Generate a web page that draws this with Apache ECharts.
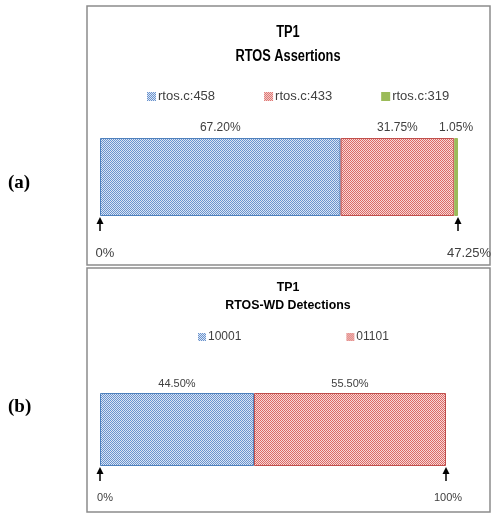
<!DOCTYPE html>
<html>
<head>
<meta charset="utf-8">
<style>
  html, body { margin: 0; padding: 0; background: #fff; }
  #chart { width: 491px; height: 513px; }
</style>
<script src="https://cdn.jsdelivr.net/npm/echarts@6/dist/echarts.min.js"></script>
</head>
<body>
<div id="chart"></div>
<script>
// panel (a)
const titleA = ['TP1', 'RTOS Assertions'];
const namesA = ['rtos.c:458', 'rtos.c:433', 'rtos.c:319'];
const valuesA = [67.20, 31.75, 1.05];
const endValuesA = [0, 100];
const endLabelsA = ['0%', '47.25%'];

// panel (b)
const titleB = ['TP1', 'RTOS-WD Detections'];
const namesB = ['10001', '01101'];
const valuesB = [44.50, 55.50];
const endValuesB = [0, 100];
const endLabelsB = ['0%', '100%'];

const FONT = '"Liberation Sans", sans-serif';

// small checker textures like the excel pattern fills
function makePattern(light, dark) {
  const c = document.createElement('canvas');
  c.width = 4; c.height = 4;
  const ctx = c.getContext('2d');
  ctx.fillStyle = light;
  ctx.fillRect(0, 0, 4, 4);
  ctx.fillStyle = dark;
  for (let y = 0; y < 4; y++) {
    for (let x = 0; x < 4; x++) {
      if ((x + y) % 2 === 0) ctx.fillRect(x, y, 1, 1);
    }
  }
  return { image: c, repeat: 'repeat' };
}

const fills = [
  makePattern('#dae5f5', '#6a93cd'),
  makePattern('#f8d8d7', '#db6a66'),
  '#9bbb59'
];
const edges = ['#4f81bd', '#c0504d', '#9bbb59'];

function barSeries(names, values, idx, fontSize) {
  return names.map((n, i) => ({
    name: n,
    type: 'bar',
    stack: 'p' + idx,
    xAxisIndex: idx,
    yAxisIndex: idx,
    barWidth: '100%',
    data: [values[i]],
    itemStyle: { color: fills[i], borderColor: edges[i], borderWidth: 1 },
    label: {
      show: true,
      position: 'top',
      distance: 4,
      color: '#404040',
      fontFamily: FONT,
      fontSize: fontSize,
      formatter: (p) => p.value.toFixed(2) + '%'
    },
    emphasis: { disabled: true }
  }));
}

function endSeries(vals, labels, idx, fontSize, textGap, lastShift) {
  return {
    type: 'custom',
    xAxisIndex: idx,
    yAxisIndex: idx,
    clip: false,
    z: 5,
    data: vals.map((v) => [v, 0]),
    renderItem: function (params, api) {
      const p = api.coord([api.value(0), 0]);
      const band = api.size([0, 1])[1];
      const x = p[0];
      const b = p[1] + band / 2;
      const last = params.dataIndex === vals.length - 1;
      return {
        type: 'group',
        children: [
          { type: 'polygon', shape: { points: [[x, b + 1], [x - 3.5, b + 8], [x + 3.5, b + 8]] },
            style: { fill: '#000' } },
          { type: 'line', shape: { x1: x, y1: b + 7, x2: x, y2: b + 15 },
            style: { stroke: '#000', lineWidth: 1.5 } },
          { type: 'text', style: {
              x: last ? x + lastShift : x + 5, y: b + textGap,
              text: labels[params.dataIndex], align: 'center', verticalAlign: 'middle',
              fill: '#404040', font: fontSize + 'px ' + FONT } }
        ]
      };
    }
  };
}

function titleText(text, x, y, size, scale) {
  return { type: 'text', x: x, y: y, scaleX: scale,
    style: { text: text, font: 'bold ' + size + 'px ' + FONT, fill: '#000',
      align: 'center', verticalAlign: 'middle' } };
}

const chart = echarts.init(document.getElementById('chart'));
chart.setOption({
  animation: false,
  backgroundColor: '#fff',
  graphic: [
    { type: 'rect', shape: { x: 87, y: 6, width: 403, height: 259 },
      style: { fill: 'none', stroke: '#8c8c8c', lineWidth: 1.5 } },
    { type: 'rect', shape: { x: 87, y: 268, width: 403, height: 244 },
      style: { fill: 'none', stroke: '#8c8c8c', lineWidth: 1.5 } },
    { type: 'text', x: 8, y: 183, style: { text: '(a)', font: 'bold 19px "Liberation Serif", serif',
      fill: '#000', verticalAlign: 'middle' } },
    { type: 'text', x: 8, y: 407, style: { text: '(b)', font: 'bold 19px "Liberation Serif", serif',
      fill: '#000', verticalAlign: 'middle' } },
    titleText(titleA[0], 288, 33, 16, 0.8),
    titleText(titleA[1], 288, 57, 16, 0.8),
    titleText(titleB[0], 288, 287, 13, 0.95),
    titleText(titleB[1], 288, 305, 13, 0.95)
  ],
  legend: [
    { data: namesA, left: 142, top: 85, itemWidth: 9, itemHeight: 9, itemGap: 49,
      icon: 'rect', selectedMode: false, itemStyle: { borderWidth: 0 },
      textStyle: { color: '#404040', fontFamily: FONT, fontSize: 13, padding: [0, 0, 0, -3] } },
    { data: namesB, left: 193, top: 326, itemWidth: 8, itemHeight: 8, itemGap: 105,
      icon: 'rect', selectedMode: false, itemStyle: { borderWidth: 0 },
      textStyle: { color: '#404040', fontFamily: FONT, fontSize: 12, padding: [0, 0, 0, -3] } }
  ],
  grid: [
    { left: 100, top: 138, width: 358, height: 78 },
    { left: 100, top: 393, width: 346, height: 73 }
  ],
  xAxis: [
    { gridIndex: 0, type: 'value', min: 0, max: 100, show: false },
    { gridIndex: 1, type: 'value', min: 0, max: 100, show: false }
  ],
  yAxis: [
    { gridIndex: 0, type: 'category', data: [titleA[0]], show: false },
    { gridIndex: 1, type: 'category', data: [titleB[0]], show: false }
  ],
  series: [
    ...barSeries(namesA, valuesA, 0, 12),
    ...barSeries(namesB, valuesB, 1, 11),
    endSeries(endValuesA, endLabelsA, 0, 13, 37, 11),
    endSeries(endValuesB, endLabelsB, 1, 11, 32, 2)
  ]
});
</script>
</body>
</html>
